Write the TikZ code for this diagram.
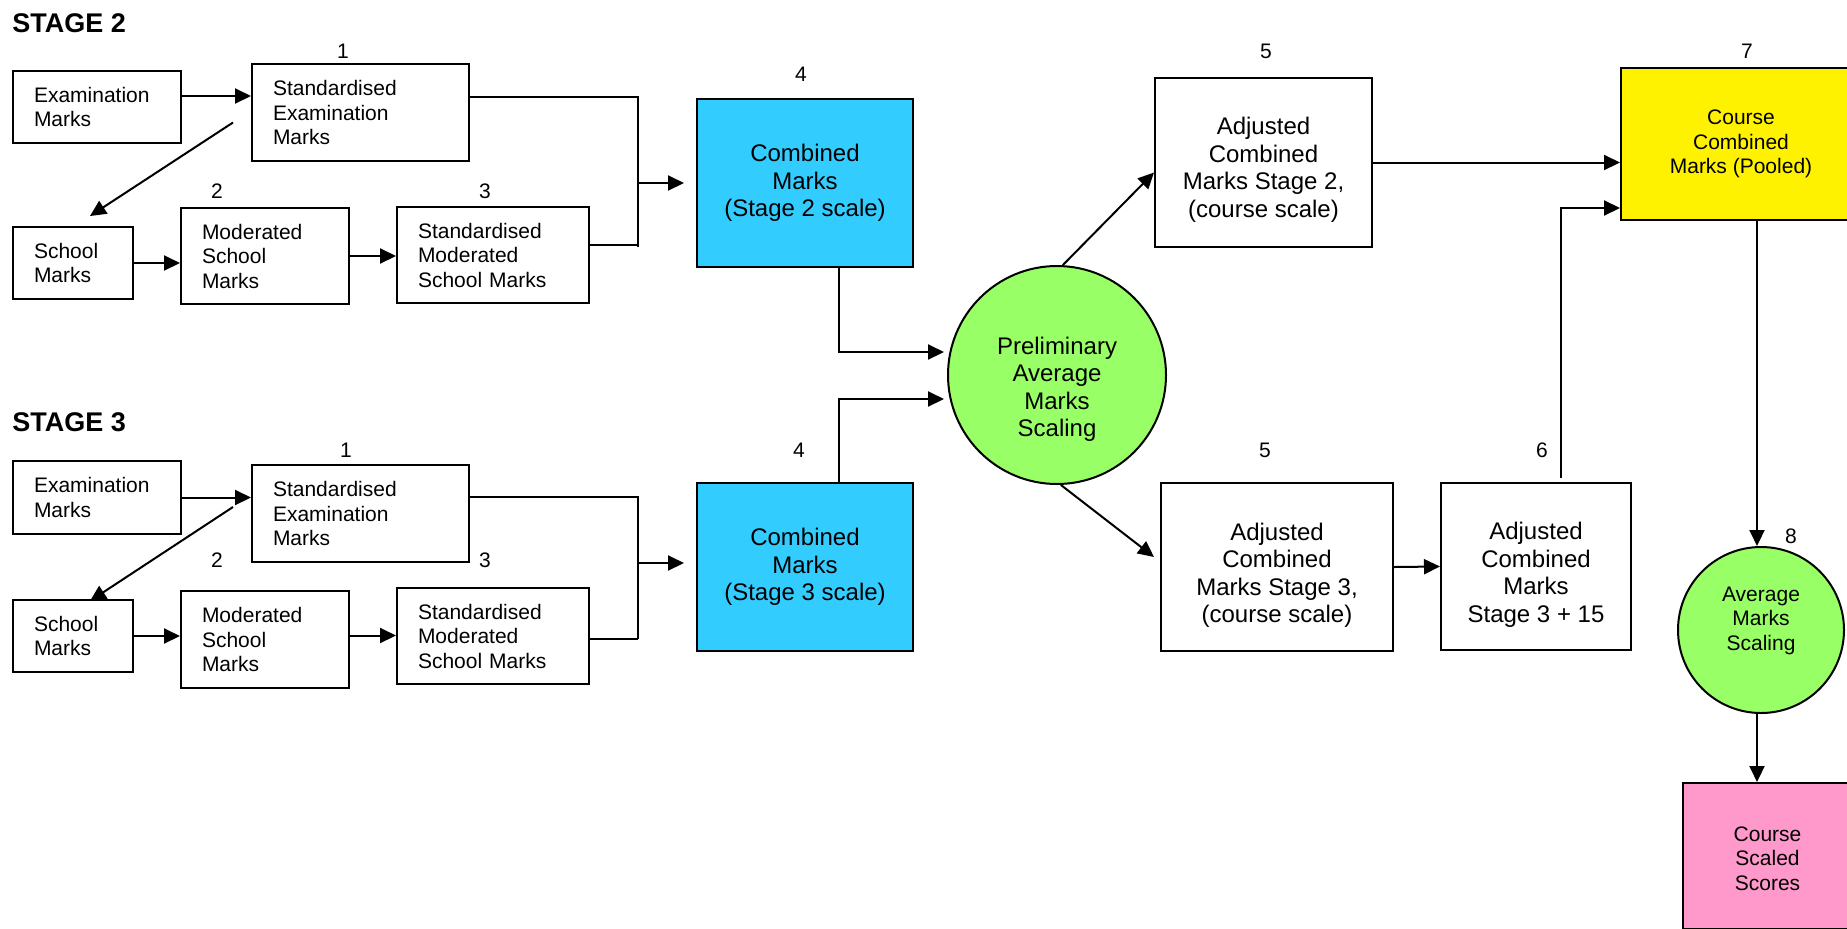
\documentclass[tikz,border=0pt]{standalone}
\usepackage{fontspec}
\setmainfont{Liberation Sans}
\usetikzlibrary{arrows.meta}

\definecolor{skyblue}{HTML}{33CCFF}
\definecolor{lightgreen}{HTML}{99FF66}
\definecolor{pinkfill}{HTML}{FF99CC}

% text block moved down inside its box, box itself unchanged
\newcommand\movedtext[2]{\raisebox{#1}[\height][\depth]{\begin{tabular}{@{}c@{}}#2\end{tabular}}}

\tikzset{
  small/.style={font=\fontsize{10.5}{12.25}\selectfont},
  big/.style={font=\fontsize{12}{13.8}\selectfont},
  leftbox/.style={draw, line width=1pt, rectangle, inner xsep=10.5pt, align=left, small},
  midbox/.style={draw, line width=1pt, rectangle, align=center},
  joinline/.style={draw, line width=1pt},
  arr/.style={draw, line width=1pt, -{Triangle[length=8pt,width=7.5pt]}},
}

\begin{document}
\begin{tikzpicture}[x=0.5pt,y=-0.5pt]

      \clip (0,0) rectangle (1847,928);

      \node[anchor=west, inner sep=0pt, font=\bfseries\fontsize{13.5}{16}\selectfont] (st2) at (12,23) {STAGE 2};
      \node[anchor=west, inner sep=0pt, font=\bfseries\fontsize{13.5}{16}\selectfont] (st3) at (12,422) {STAGE 3};

      % stage 2, left part
      \begin{scope}[every node/.style={leftbox}]
        \node[text width=63pt, minimum height=36pt] (exam2) at (97,107) {Examination\\Marks};
        \node[text width=87.5pt, minimum height=48.5pt] (std2) at (360.5,112.5) {Standardised\\Examination\\Marks};
        \node[text width=39pt, minimum height=36pt] (school2) at (73,263) {School\\Marks};
        \node[text width=63pt, minimum height=48pt] (mod2) at (265,256) {Moderated\\School\\Marks};
        \node[text width=75pt, minimum height=48pt] (stdmod2) at (493,255) {Standardised\\Moderated\\School Marks};
      \end{scope}

      % stage 3, left part
      \begin{scope}[every node/.style={leftbox}]
        \node[text width=63pt, minimum height=36.5pt] (exam3) at (97,497.5) {Examination\\Marks};
        \node[text width=87.5pt, minimum height=48.5pt] (std3) at (360.5,513.5) {Standardised\\Examination\\Marks};
        \node[text width=39pt, minimum height=36pt] (school3) at (73,636) {School\\Marks};
        \node[text width=63pt, minimum height=48.5pt] (mod3) at (265,639.5) {Moderated\\School\\Marks};
        \node[text width=75pt, minimum height=48pt] (stdmod3) at (493,636) {Standardised\\Moderated\\School Marks};
      \end{scope}

      % combined and adjusted marks
      \begin{scope}[every node/.style={midbox, big}]
        \node[fill=skyblue, minimum width=108pt, minimum height=84pt] (comb2) at (805,183) {Combined\\Marks\\(Stage 2 scale)};
        \node[fill=skyblue, minimum width=108pt, minimum height=84pt] (comb3) at (805,567) {Combined\\Marks\\(Stage 3 scale)};
        \node[minimum width=108.5pt, minimum height=84.5pt] (adj2) at (1263.5,162.5) {\movedtext{-4pt}{Adjusted\\Combined\\Marks Stage 2,\\(course scale)}};
        \node[minimum width=116pt, minimum height=84pt] (adj3) at (1277,567) {\movedtext{-4.5pt}{Adjusted\\Combined\\Marks Stage 3,\\(course scale)}};
        \node[minimum width=95pt, minimum height=83.5pt] (adj15) at (1536,566.5) {\movedtext{-4.5pt}{Adjusted\\Combined\\Marks\\Stage 3 + 15}};
        \node[circle, fill=lightgreen, minimum size=109pt, inner sep=0pt] (prelim) at (1057,375) {\movedtext{-7.5pt}{Preliminary\\Average\\Marks\\Scaling}};
      \end{scope}

      \begin{scope}[every node/.style={midbox, small}]
        \node[fill=yellow, minimum width=120pt, minimum height=76pt] (pool) at (1741,144) {Course\\Combined\\Marks (Pooled)};
        \node[circle, fill=lightgreen, minimum size=83pt, inner sep=0pt] (avg) at (1761,630) {\movedtext{4.5pt}{Average\\Marks\\Scaling}};
        \node[fill=pinkfill, minimum width=84.5pt, minimum height=73pt] (scaled) at (1767.5,856) {\movedtext{-2.5pt}{Course\\Scaled\\Scores}};
      \end{scope}

      % step numbers
      \begin{scope}[every node/.style={small}]
        \node (n1a) at (343,51) {1};
        \node (n2a) at (217,191) {2};
        \node (n3a) at (485,191) {3};
        \node (n4a) at (801,74) {4};
        \node (n5a) at (1266,51) {5};
        \node (n7) at (1747,51) {7};
        \node (n1b) at (346,450) {1};
        \node (n2b) at (217,560) {2};
        \node (n3b) at (485,560) {3};
        \node (n4b) at (799,450) {4};
        \node (n5b) at (1265,450) {5};
        \node (n6) at (1542,450) {6};
        \node (n8) at (1791,536) {8};
      \end{scope}

      \coordinate (j2) at (638,183);
      \coordinate (j3) at (638,563);

      \begin{scope}[every edge/.style={arr}]
        \path ([yshift=5.5pt]exam2.east) edge ([yshift=5.5pt]exam2.east -| std2.west);
        \path ([xshift=-9pt,yshift=-5pt]std2.west) edge ([xshift=8.5pt,yshift=5pt]school2.north);
        \path (school2.east) edge (school2.east -| mod2.west);
        \path (mod2.east) edge (mod2.east -| stdmod2.west);
        \path (j2) edge ([xshift=-6pt]j2 -| comb2.west);

        \path (exam3.east) edge (exam3.east -| std3.west);
        \path ([xshift=-9pt,yshift=3.25pt]std3.west) edge ([xshift=8.5pt,yshift=-1pt]school3.north);
        \path (school3.east) edge (school3.east -| mod3.west);
        \path ([yshift=2pt]mod3.east) edge ([yshift=2pt]mod3.east -| stdmod3.west);
        \path (j3) edge ([xshift=-6pt]j3 -| comb3.west);

        \path (prelim.87) edge ([yshift=-5pt]adj2.west);
        \path (prelim.-88) edge ([xshift=-3pt,yshift=5pt]adj3.west);
        \path (adj2.east) edge (adj2.east -| pool.west);
        \path (adj3.east) edge (adj15.west);
        \path ([xshift=8pt]pool.south) edge ([xshift=8pt]pool.south |- avg.north);
        \path ([xshift=-2pt]avg.south) edge ([xshift=-2pt]avg.south |- scaled.north);
      \end{scope}

      % joining lines
      \draw[joinline] ([yshift=7.75pt]std2.east) -| ([yshift=-32pt]j2);
      \draw[joinline] ([yshift=5pt]stdmod2.east) -- ([yshift=5pt]stdmod2.east -| j2);
      \draw[joinline] ([yshift=8.25pt]std3.east) -| ([yshift=-38pt]j3);
      \draw[joinline] ([yshift=-1.5pt]stdmod3.east) -- ([yshift=-1.5pt]stdmod3.east -| j3);

      \draw[arr] ([xshift=17pt]comb2.south) |- ([xshift=-1.5pt,yshift=11.5pt]prelim.west);
      \draw[arr] ([xshift=17pt]comb3.north) |- ([xshift=-1.5pt,yshift=-12pt]prelim.west);
      \draw[arr] ([xshift=12.5pt,yshift=2pt]adj15.north) |- ([yshift=-32pt]pool.west);

\end{tikzpicture}
\end{document}
